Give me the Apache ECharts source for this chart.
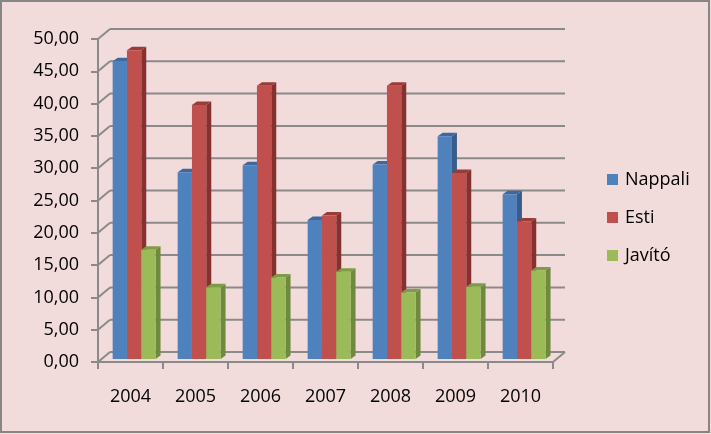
<!DOCTYPE html>
<html>
<head>
<meta charset="utf-8">
<script src="https://cdn.jsdelivr.net/npm/echarts@6/dist/echarts.min.js"></script>
<style>
  html, body { margin: 0; padding: 0; background: #f2dcdb; }
  #chart { width: 711px; height: 434px; }
</style>
</head>
<body>
<div id="chart"></div>
<script>
  // adatok
  var years = ['2004', '2005', '2006', '2007', '2008', '2009', '2010']
  var nappali = [46.1, 28.9, 30.0, 21.5, 30.1, 34.5, 25.5]
  var esti = [47.8, 39.3, 42.3, 22.2, 42.3, 28.8, 21.3]
  var javito = [16.9, 11.1, 12.6, 13.5, 10.3, 11.2, 13.7]
  var yTicks = [0, 5, 10, 15, 20, 25, 30, 35, 40, 45, 50]

  var DX = 12, DY = -10      // depth of the floor (front -> back wall)
  var BDX = 5, BDY = -3.5    // depth of one column
  var FONT = '"Open Sans", "Noto Sans", sans-serif'
  var GRID_COLOR = '#8a8a8a'

  var colors = [
    {front: '#4f81bd', side: '#385d8a', top: '#3d6a9e'},
    {front: '#c0504d', side: '#84312f', top: '#9a3b38'},
    {front: '#9bbb59', side: '#6f8a3e', top: '#7f9c45'},
  ]

  function wallItem (params, api) {
    var cs = params.coordSys
    var v = api.value(1)
    var y = api.coord([0, v])[1]
    var children = [
      {type: 'line', shape: {x1: cs.x, y1: y, x2: cs.x + DX, y2: y + DY},
        style: {stroke: GRID_COLOR, lineWidth: 2}},
      {type: 'line', shape: {x1: cs.x + DX, y1: y + DY, x2: cs.x + cs.width + DX, y2: y + DY},
        style: {stroke: GRID_COLOR, lineWidth: 2}},
    ]
    if (v === 0) {
      children.push({type: 'line',
        shape: {x1: cs.x + cs.width, y1: y, x2: cs.x + cs.width + DX, y2: y + DY},
        style: {stroke: GRID_COLOR, lineWidth: 2}})
    }
    return {type: 'group', children: children}
  }

  function barRenderer (s) {
    return function (params, api) {
      var idx = api.value(0)
      var val = api.value(1)
      var catW = api.size([1, 0])[0]
      var bw = catW * 0.22
      var base = api.coord([idx, 0])
      var topY = api.coord([idx, val])[1] + DY * 0.3
      var baseY = base[1] + DY * 0.3
      var cx = base[0] + DX * 0.3 + (s - 1) * bw
      var x0 = cx - bw / 2
      var c = colors[s]
      return {
        type: 'group',
        children: [
          {type: 'polygon', shape: {points: [[x0 + bw, topY], [x0 + bw + BDX, topY + BDY], [x0 + bw + BDX, baseY + BDY], [x0 + bw, baseY]]},
            style: {fill: c.side}},
          {type: 'polygon', shape: {points: [[x0, topY], [x0 + BDX, topY + BDY], [x0 + bw + BDX, topY + BDY], [x0 + bw, topY]]},
            style: {fill: c.top}},
          {type: 'rect', shape: {x: x0, y: topY, width: bw, height: baseY - topY},
            style: {fill: c.front}},
        ],
      }
    }
  }

  function toData (arr) {
    return arr.map(function (v, i) { return [i, v] })
  }

  var chart = echarts.init(document.getElementById('chart'))
  var option = {
    backgroundColor: '#f2dcdb',
    animation: false,
    textStyle: {fontFamily: FONT},
    graphic: [
      {type: 'rect', shape: {x: 1, y: 1, width: 708, height: 431},
        style: {fill: 'none', stroke: '#868686', lineWidth: 2}, z: 100},
    ],
    grid: {left: 98, top: 39, right: 158, bottom: 72},
    legend: {
      orient: 'vertical',
      left: 607,
      top: 170,
      padding: 0,
      itemWidth: 11,
      itemHeight: 11,
      itemGap: 19,
      icon: 'rect',
      data: ['Nappali', 'Esti', 'Javító'],
      textStyle: {color: '#000', fontSize: 18, lineHeight: 19, fontFamily: FONT, padding: [0, 0, 0, 2]},
    },
    xAxis: {
      type: 'category',
      data: years,
      axisLine: {lineStyle: {color: GRID_COLOR, width: 2}},
      axisTick: {show: true, length: 7, lineStyle: {color: GRID_COLOR, width: 2}},
      axisLabel: {color: '#000', fontSize: 18, margin: 26, fontFamily: FONT},
      splitLine: {show: false},
    },
    yAxis: {
      type: 'value',
      min: 0,
      max: 50,
      interval: 5,
      axisLine: {show: true, lineStyle: {color: GRID_COLOR, width: 2}},
      axisTick: {show: true, length: 7, lineStyle: {color: GRID_COLOR, width: 2}},
      axisLabel: {
        color: '#000', fontSize: 18, margin: 19, fontFamily: FONT,
        formatter: function (v) { return v.toFixed(2).replace('.', ',') },
      },
      splitLine: {show: false},
    },
    series: [
      {type: 'custom', name: 'wall', renderItem: wallItem, silent: true, z: 1,
        data: yTicks.map(function (v) { return [0, v] })},
      {type: 'custom', name: 'Nappali', renderItem: barRenderer(0), itemStyle: {color: colors[0].front}, z: 2, data: toData(nappali)},
      {type: 'custom', name: 'Esti', renderItem: barRenderer(1), itemStyle: {color: colors[1].front}, z: 3, data: toData(esti)},
      {type: 'custom', name: 'Javító', renderItem: barRenderer(2), itemStyle: {color: colors[2].front}, z: 4, data: toData(javito)},
    ],
  }
  chart.setOption(option)
</script>
</body>
</html>
